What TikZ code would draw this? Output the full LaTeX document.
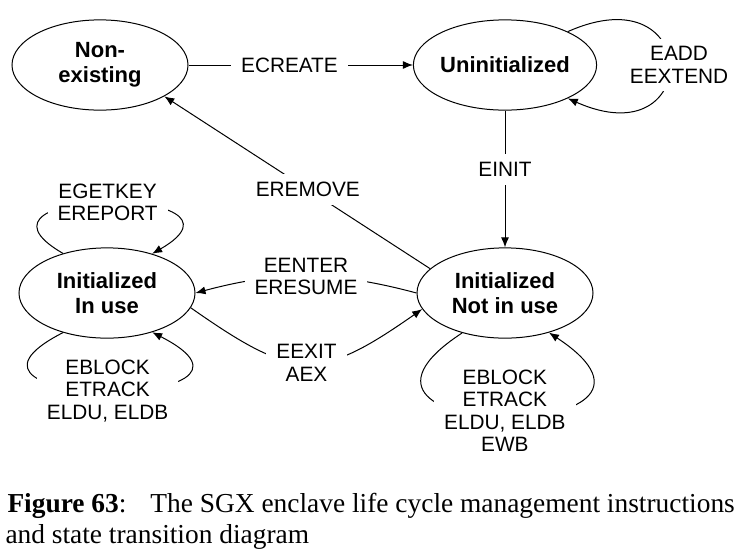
\documentclass[tikz,border=0pt]{standalone}
\usepackage{fontspec}
\setmainfont{Liberation Serif}
\setsansfont{Liberation Sans}
\usetikzlibrary{shapes.geometric,arrows.meta}
\begin{document}
\begin{tikzpicture}[x=0.5pt,y=0.5pt,line width=0.5pt,>={Latex[length=5pt,width=4pt]}]
  \tikzset{state/.style={ellipse,draw,inner sep=0pt,minimum width=\len,minimum height=\len/1.95,align=center,font=\sffamily\bfseries\fontsize{11}{12.5}\selectfont},
    trans/.style={fill=white,inner xsep=5pt,inner ysep=4pt,align=center,font=\sffamily\fontsize{10.4}{11.2}\selectfont},
    figtext/.style={anchor=base west,inner sep=0pt,font=\fontsize{13.7}{15.5}\selectfont}}
  \def\len{88pt}
  \useasboundingbox (0,0) rectangle (744,-558);
  %states
  \node[state] at (100,-65) (NONEX) {Non-\\existing};
  \node[state] at (505,-65) (UNINIT) {Uninitialized};
  \node[state] at (107,-293) (INUSE) {Initialized\\In use};
  \node[state] at (505,-293) (NOTINUSE) {Initialized\\Not in use};
  %transitions
  \draw[->] (NONEX.east) -- node[trans,pos=0.45] {ECREATE} (UNINIT.west);
  \draw[->] (UNINIT.south) -- node[trans,pos=0.43] {EINIT} (NOTINUSE.north);
  \draw[->] (NOTINUSE.162) -- node[trans,pos=0.46] {EREMOVE} (NONEX.-26);
  \draw[->] (NOTINUSE.west) to[bend right=15] node[trans] {EENTER\\ERESUME} (INUSE.east);
  \draw[->] (INUSE.-10) to[out=-35,in=-145,looseness=1.4] node[trans] {EEXIT\\AEX} (NOTINUSE.191);
  %loops
  \draw[->] (UNINIT.28) .. controls +(135,60) and +(135,-60) .. node[trans,xshift=5pt] {EADD\\EEXTEND} (UNINIT.-28);
  \draw[->] (INUSE.138) .. controls +(-118,68) and +(118,68) .. node[trans] {EGETKEY\\EREPORT} (INUSE.41);
  \draw[->] (INUSE.222) .. controls +(-153,-78) and +(153,-78) .. node[trans] {EBLOCK\\ETRACK\\ELDU, ELDB} (INUSE.319);
  \draw[->] (NOTINUSE.223) .. controls +(-172,-112) and +(170,-112) .. node[trans,yshift=3pt] {EBLOCK\\ETRACK\\ELDU, ELDB\\EWB} (NOTINUSE.318);
  %caption
  \node[figtext] at (7,-512) (FIGA) {\textbf{Figure 63}:\hspace{12pt}The SGX enclave life cycle management instructions};
  \node[figtext] at (5,-543) (FIGB) {and state transition diagram};
\end{tikzpicture}
\end{document}
